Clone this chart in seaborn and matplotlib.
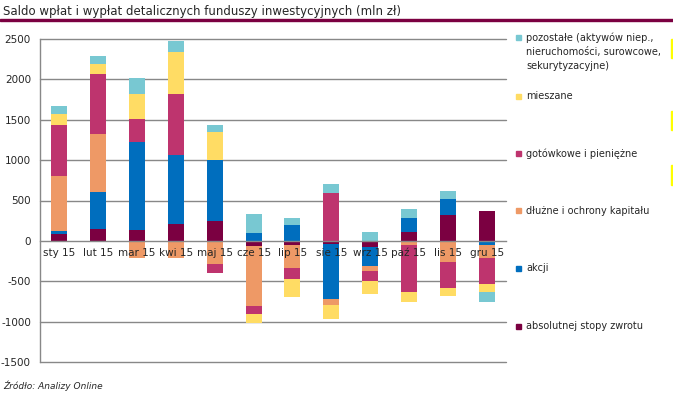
import numpy as np
import pandas as pd
import seaborn as sns
import matplotlib.pyplot as plt
from matplotlib.patches import Rectangle

months = ['sty 15', 'lut 15', 'mar 15', 'kwi 15', 'maj 15', 'cze 15',
          'lip 15', 'sie 15', 'wrz 15', 'paź 15', 'lis 15', 'gru 15']

absolutnej = [90, 150, 135, 215, 250, -58, -45, -33, -82, 110, 320, 370]
akcji = [33, 458, 1093, 850, 755, 99, 198, -693, -235, 173, 198, -45]
dluzne = [680, 718, -206, -206, -285, -743, -297, -74, -62, -45, -256, -173]
gotowkowe = [631, 743, 280, 755, -111, -99, -124, 594, -124, -582, -322, -322]
mieszane = [136, 124, 309, 520, 347, -120, -235, -173, -161, -124, -99, -87]
pozostale = [99, 99, 198, 136, 87, 235, 87, 111, 111, 111, 99, -136]

series_names = ['absolutnej stopy zwrotu', 'akcji', 'dłużne i ochrony kapitału',
                'gotówkowe i pieniężne', 'mieszane',
                'pozostałe (aktywów niep.,\nnieruchomości, surowcowe,\nsekurytyzacyjne)']
colors = ['#7B0041', '#006EBE', '#EE9966', '#BE346E', '#FFDC64', '#78C8D2']

df = pd.DataFrame({'month': months, 's0': absolutnej, 's1': akcji, 's2': dluzne,
                   's3': gotowkowe, 's4': mieszane, 's5': pozostale})

sns.set_style('white')
plt.rcParams['font.family'] = ['Liberation Sans Narrow', 'DejaVu Sans']
plt.rcParams['axes.unicode_minus'] = False

fig = plt.figure(figsize=(6.73, 3.97), dpi=100)
ax = fig.add_axes([40 / 673, 1 - 362 / 397, 466 / 673, 323 / 397])

x = np.arange(len(months))
pos_bottom = np.zeros(len(months))
neg_bottom = np.zeros(len(months))
for i in range(6):
    vals = df[f's{i}'].to_numpy(dtype=float)
    bottom = np.where(vals >= 0, pos_bottom, neg_bottom)
    ax.bar(x, vals, width=0.41, bottom=bottom, color=colors[i], linewidth=0, zorder=2)
    pos_bottom += np.clip(vals, 0, None)
    neg_bottom += np.clip(vals, None, 0)

ax.set_xlim(-0.5, 11.5)
ax.set_ylim(-1500, 2500)

grid_col = '#888888'
yt = np.arange(-1500, 2501, 500)
ax.set_yticks(yt)
ax.set_yticklabels([str(v) for v in yt], fontsize=7.5)
for v in yt:
    if v != 0:
        ax.axhline(v, color=grid_col, lw=1, zorder=1, clip_on=False)

for s in ['top', 'right']:
    ax.spines[s].set_visible(False)
ax.spines['left'].set_color(grid_col)
ax.spines['left'].set_linewidth(1)
ax.spines['bottom'].set_position(('data', 0))
ax.spines['bottom'].set_color(grid_col)
ax.spines['bottom'].set_linewidth(1)
ax.spines['bottom'].set_zorder(4)

ax.set_xticks(x)
ax.set_xticklabels(months, fontsize=7.5)
ax.set_xticks(np.arange(-0.5, 12, 1), minor=True)
ax.tick_params(axis='x', which='major', length=0, pad=5)
ax.tick_params(axis='x', which='minor', length=4, width=1, color=grid_col, direction='out')
ax.tick_params(axis='y', length=2.5, width=1, color=grid_col, pad=4)
ax.xaxis.set_zorder(5)

# title and rule
fig.text(3 / 673, 1 - 12 / 397, 'Saldo wpłat i wypłat detalicznych funduszy inwestycyjnych (mln zł)',
         fontsize=8.5, va='center', ha='left')
fig.patches.append(Rectangle((0, 1 - 21 / 397), 1, 2 / 397, transform=fig.transFigure,
                             color='#7B0041', zorder=5))

# legend
leg_y = [326, 268, 211, 153, 96, 37]
for i in range(6):
    yy = 1 - leg_y[i] / 397
    fig.patches.append(Rectangle((516 / 673, yy - 2.5 / 397), 5 / 673, 5 / 397,
                                 transform=fig.transFigure, color=colors[i]))
    fig.text(526 / 673, yy + 5 / 397, series_names[i], fontsize=7, va='top', ha='left',
             linespacing=1.55)

# yellow marks at the right edge
for y0, y1 in [(39, 58), (111, 130), (165, 185)]:
    fig.patches.append(Rectangle((671 / 673, 1 - y1 / 397), 2 / 673, (y1 - y0) / 397,
                                 transform=fig.transFigure, color='#FFFF00'))

fig.text(3 / 673, 1 - 386 / 397, 'Źródło: Analizy Online', fontsize=6.5, style='italic',
         va='center', ha='left')

plt.savefig('out.png', dpi=100)
